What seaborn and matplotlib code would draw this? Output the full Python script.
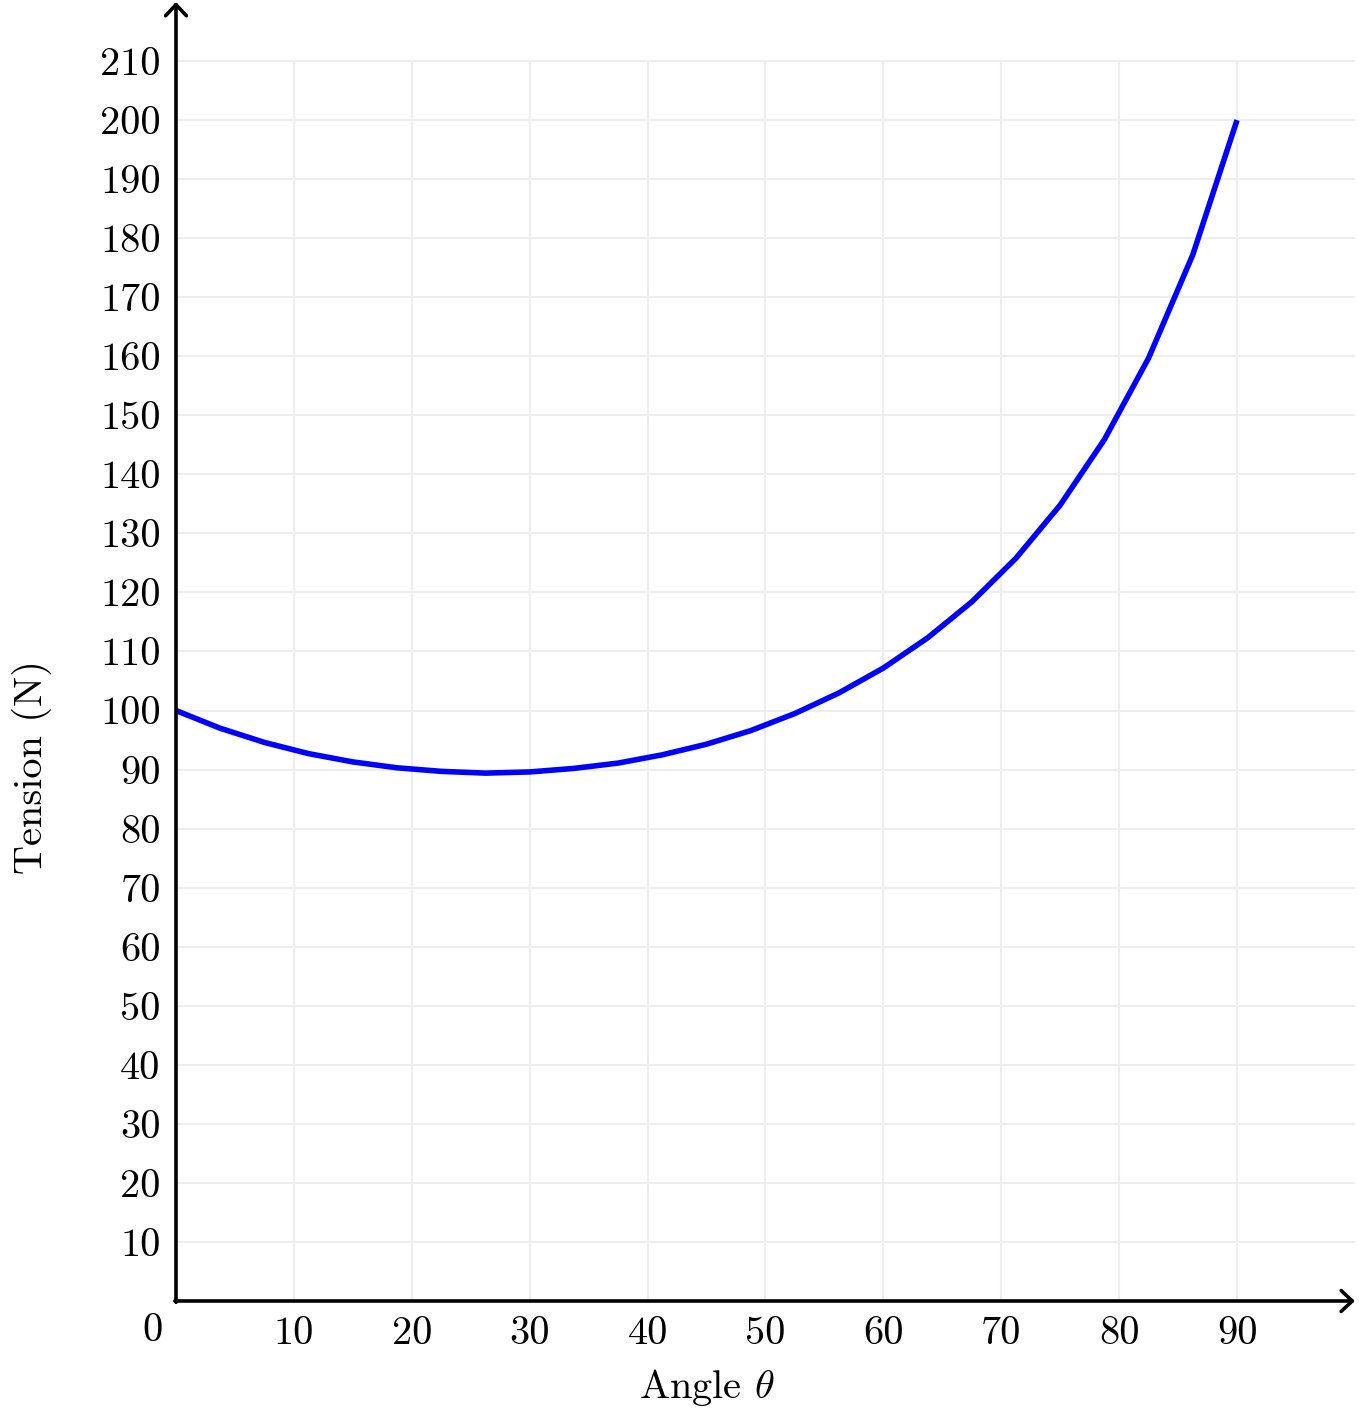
import matplotlib
matplotlib.use("Agg")
import matplotlib.pyplot as plt
import pandas as pd
import seaborn as sns

# values
angle = [0, 3.75, 7.5, 11.25, 15, 18.75, 22.5, 26.25, 30, 33.75, 37.5, 41.25,
         45, 48.75, 52.5, 56.25, 60, 63.75, 67.5, 71.25, 75, 78.75, 82.5, 86.25, 90]
tension = [100.0, 97.0, 94.6, 92.7, 91.3, 90.3, 89.7, 89.4, 89.6, 90.2, 91.1, 92.5,
           94.3, 96.6, 99.5, 103.0, 107.2, 112.3, 118.4, 125.8, 134.8, 145.9, 159.7, 177.2, 200.0]
x_ticks = [10, 20, 30, 40, 50, 60, 70, 80, 90]
y_ticks = list(range(10, 220, 10))

df = pd.DataFrame({"angle": angle, "tension": tension})

sns.set_style("white")
plt.rcParams["font.family"] = ["cmr10", "DejaVu Serif"]
plt.rcParams["mathtext.fontset"] = "cm"
plt.rcParams["axes.formatter.use_mathtext"] = True
for key in ["text.color", "axes.labelcolor", "xtick.color", "ytick.color"]:
    plt.rcParams[key] = "black"

fig = plt.figure(figsize=(13.59, 14.22), dpi=100)
ax = fig.add_axes([0.1295, 0.0851, 0.8675, 0.9135])

xmax, ymax = 100, 220

# grid: vertical lines stop at the top tick, horizontal lines run to the arrow
ax.vlines(x_ticks, 0, max(y_ticks), color="#eeeeee", linewidth=1.5, zorder=0)
ax.hlines(y_ticks, 0, xmax, color="#eeeeee", linewidth=1.5, zorder=0)

sns.lineplot(data=df, x="angle", y="tension", ax=ax, color="#0000ff",
             linewidth=4.0, zorder=3, clip_on=False)
ax.lines[-1].set_solid_capstyle("butt")

ax.set_xlim(0, xmax)
ax.set_ylim(0, ymax)
ax.set_xticks(x_ticks)
ax.set_yticks(y_ticks)
ax.set_xticklabels([str(v) for v in x_ticks])
ax.set_yticklabels([str(v) for v in y_ticks])
ax.tick_params(direction="in", length=9, width=2.6, labelsize=29, pad=11)
ax.grid(False)

for side in ax.spines:
    ax.spines[side].set_visible(False)

# axes drawn as arrows
arrow = dict(arrowstyle="->,head_length=0.8,head_width=0.75", lw=2.6, color="black",
             shrinkA=0, shrinkB=0)
ax.annotate("", xy=(1.0, 0), xytext=(-0.001, 0), xycoords="axes fraction",
            arrowprops=arrow, annotation_clip=False, zorder=4)
ax.annotate("", xy=(0, 1.0), xytext=(0, -0.001), xycoords="axes fraction",
            arrowprops=arrow, annotation_clip=False, zorder=4)

# origin label sits below-left of the corner
ax.text(-0.02, -0.023, "0", transform=ax.transAxes, fontsize=29,
        ha="center", va="center")

ax.set_xlabel(r"Angle $\theta$", fontsize=29, va="center")
ax.set_ylabel("Tension (N)", fontsize=29, va="center")
ax.xaxis.set_label_coords(0.45, -0.0664)
ax.yaxis.set_label_coords(-0.1221, 0.411)

fig.savefig("out.png", dpi=100)
